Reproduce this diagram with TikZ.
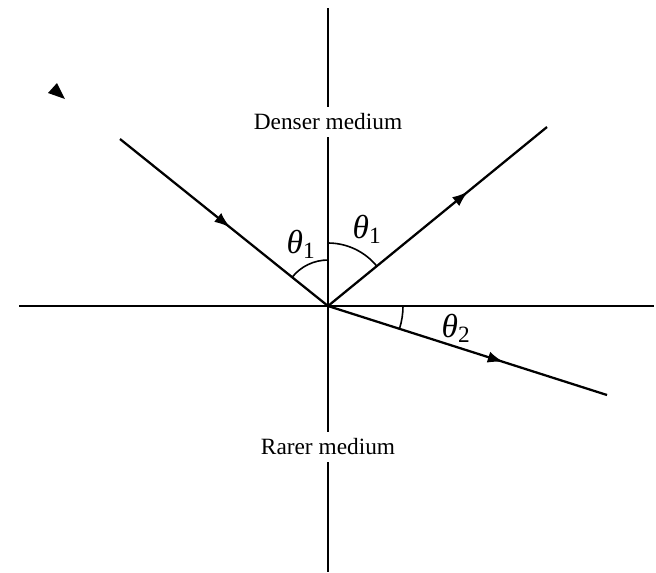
\documentclass[tikz,border=0pt]{standalone}
\usepackage{fontspec}
\setmainfont{Liberation Serif}
\usetikzlibrary{arrows.meta, decorations.markings}

\begin{document}
\begin{tikzpicture}[
    x=0.75pt, y=-0.75pt,
    font=\fontsize{17.5}{20}\selectfont,
    axis/.style={line width=1.7pt, draw=black},
    ray/.style={line width=1.7pt, draw=black, postaction={decorate},
        decoration={markings, mark=at position #1 with {\arrow{Latex[length=12pt,width=8.5pt]}}}},
    medium/.style={inner xsep=2pt, inner ysep=5pt},
    angle/.style={line width=1.2pt, draw=black},
    anglabel/.style={font=\fontsize{25}{27}\selectfont}
]
\useasboundingbox (0,0) rectangle (656,572);

% axes and interface
\coordinate (O) at (328,306);
\coordinate (top) at (328,8);
\coordinate (bot) at (328,572);
\coordinate (left) at (19,306);
\coordinate (right) at (654,306);

\node[medium] (dense) at (328,122) {Denser medium};
\node[medium] (rare) at (328,447) {Rarer medium};

\draw[axis] (top) -- (dense);
\draw[axis] (dense) -- (rare);
\draw[axis] (rare) -- (bot);
\draw[axis] (left) -- (right);

% rays
\coordinate (inc) at (120,139);
\coordinate (refl) at (547,127);
\coordinate (refr) at (607,395);

\draw[ray=0.53] (inc) -- (O);
\draw[ray=0.64] (O) -- (refl);
\draw[ray=0.63] (O) -- (refr);

% angles
\draw[angle] ([shift={(-90:46)}]O) arc[start angle=-90, end angle=-141.2, radius=46];
\draw[angle] ([shift={(-90:63)}]O) arc[start angle=-90, end angle=-39.3, radius=63];
\draw[angle] ([shift={(0:75)}]O) arc[start angle=0, end angle=17.7, radius=75];

\node[anglabel] (th1a) at (301,244) {\textit{θ}\textsubscript{1}};
\node[anglabel] (th1b) at (367,229) {\textit{θ}\textsubscript{1}};
\node[anglabel] (th2) at (456,328) {\textit{θ}\textsubscript{2}};

% stray arrowhead
\fill (48,93) -- (57,83) -- (65,99) -- cycle;

\end{tikzpicture}
\end{document}
